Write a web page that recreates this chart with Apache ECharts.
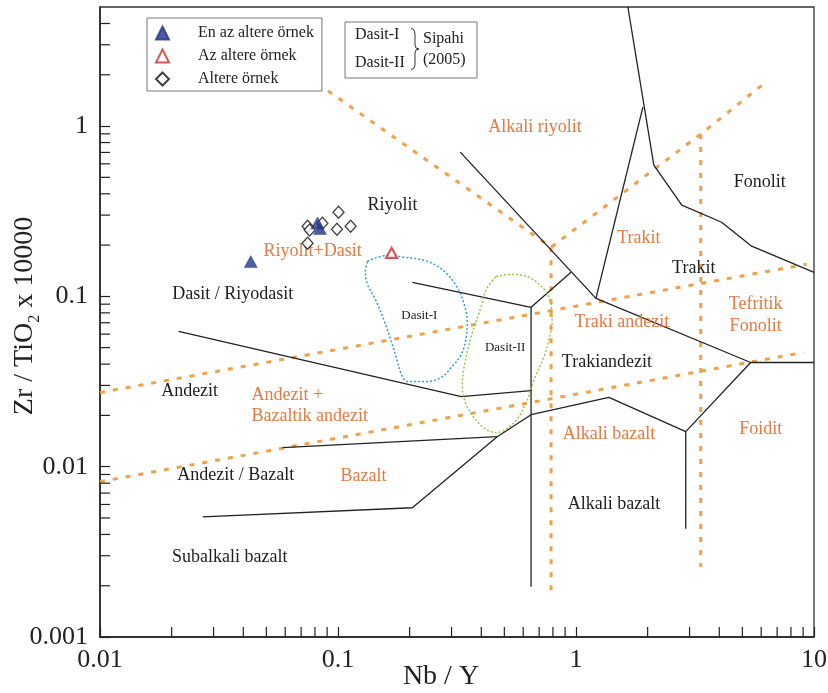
<!DOCTYPE html>
<html>
<head>
<meta charset="utf-8">
<script src="https://cdn.jsdelivr.net/npm/echarts@6/dist/echarts.min.js"></script>
<style>html,body{margin:0;padding:0;background:#fff}#c{width:828px;height:693px}</style>
</head>
<body>
<div id="c"></div>
<script>
// ---------- axis ranges ----------
const X_MIN = 0.01, X_MAX = 10, Y_MIN = 0.001, Y_MAX = 5;
const xMinorTicks = [0.02,0.03,0.04,0.05,0.06,0.07,0.08,0.09,0.2,0.3,0.4,0.5,0.6,0.7,0.8,0.9,2,3,4,5,6,7,8,9];
const yMinorTicks = [0.002,0.003,0.004,0.005,0.006,0.007,0.008,0.009,0.02,0.03,0.04,0.05,0.06,0.07,0.08,0.09,0.2,0.3,0.4,0.5,0.6,0.7,0.8,0.9,2,3,4];

// ---------- samples ----------
const enAzAltere = [[0.043,0.16],[0.082,0.27],[0.084,0.25]];
const azAltere = [[0.168,0.18]];
const altere = [[0.0745,0.258],[0.076,0.245],[0.086,0.269],[0.1005,0.312],[0.099,0.248],[0.113,0.258],[0.0745,0.205]];

// ---------- black field boundaries ----------
const bAndezitTop = [[0.0214,0.0622],[0.3295,0.0258],[0.6475,0.028]];
const bDasitLow = [[0.2053,0.1209],[0.6475,0.0862],[0.953,0.1384]];
const bVertical = [[0.6475,0.0862],[0.6475,0.00197]];
const bRiyolit = [[0.3263,0.703],[1.213,0.0973],[5.42,0.0409],[10,0.0409]];
const bTrakitLeft = [[1.213,0.0973],[1.91,1.293]];
const bFonolit = [[1.652,5],[2.123,0.59],[2.783,0.343],[4.093,0.2724],[5.47,0.197],[10,0.1384]];
const bFoidit = [[5.42,0.0409],[2.892,0.01606],[2.892,0.00432]];
const bAlkaliBazalt = [[0.02704,0.00508],[0.2053,0.00574],[0.4665,0.015],[0.6475,0.0202],[1.375,0.0255],[2.892,0.01606]];
const bBazaltTop = [[0.0585,0.01294],[0.4665,0.015]];

// ---------- orange dotted boundaries ----------
const oRiyolit = [[0.0738,1.968],[0.7856,0.1942],[3.343,0.897],[6.14,1.766]];
const oVert1 = [[0.7856,0.1942],[0.7856,0.00172]];
const oVert2 = [[3.343,0.897],[3.343,0.00258]];
const oUpper = [[0.01,0.02724],[9.3,0.1543]];
const oLower = [[0.01,0.00816],[9.04,0.0469]];

// ---------- Sipahi (2005) fields ----------
const dasitI = [[0.133,0.1606],[0.1612,0.1742],[0.19,0.1696],[0.2373,0.1606],[0.2796,0.1403],[0.317,0.1129],[0.339,0.0897],[0.349,0.0713],[0.3458,0.0574],[0.3295,0.0456],[0.2991,0.0382],[0.2716,0.0334],[0.2373,0.0316],[0.1956,0.0316],[0.1864,0.0338],[0.1776,0.0415],[0.1676,0.0543],[0.1567,0.0713],[0.145,0.0934],[0.133,0.1177],[0.1304,0.1403],[0.133,0.1606]];
const dasitII = [[0.462,0.131],[0.539,0.1347],[0.6353,0.1293],[0.734,0.11],[0.7856,0.0897],[0.793,0.0713],[0.7705,0.0558],[0.734,0.0444],[0.6667,0.0325],[0.6173,0.0238],[0.5495,0.01815],[0.462,0.01585],[0.4036,0.0172],[0.349,0.02254],[0.3327,0.0296],[0.339,0.0388],[0.3628,0.0582],[0.3997,0.0873],[0.4195,0.11],[0.462,0.131]];

// ---------- field names ----------
const blackLabelText = ['Riyolit','Dasit / Riyodasit','Andezit','Andezit / Bazalt','Subalkali bazalt','Trakiandezit','Alkali bazalt','Fonolit','Trakit'];
const blackLabelPos = [[0.1693,0.343],[0.0361,0.1027],[0.0238,0.0276],[0.0372,0.00885],[0.0351,0.00292],[1.349,0.0409],[1.443,0.00598],[5.91,0.4685],[3.125,0.146]];
const orangeLabelText = ['Alkali riyolit','Riyolit+Dasit','Trakit','Tefritik\nFonolit','Traki andezit','Bazalt','Alkali bazalt','Foidit'];
const orangeLabelPos = [[0.673,0.9865],[0.0782,0.184],[1.837,0.2195],[5.685,0.0773],[1.559,0.0703],[0.128,0.00873],[1.375,0.0154],[5.97,0.0165]];
const orangeLeftText = ['Andezit +\nBazaltik andezit'];
const orangeLeftPos = [[0.0433,0.02284]];
const smallLabelText = ['Dasit-I','Dasit-II'];
const smallLabelPos = [[0.2196,0.0773],[0.504,0.0501]];

const SERIF = '"Liberation Serif", "Times New Roman", serif';
const ORANGE_TXT = '#E27A43';
const ORANGE_LINE = '#F0A048';

function lineSeries(data, color, width, type, smooth) {
  return { type: 'line', data: data, symbol: 'none', silent: true, smooth: smooth || false,
    lineStyle: { color: color, width: width, type: type || 'solid', cap: 'butt' }, z: 2 };
}
function textSeries(texts, pos, color, size, align, lh) {
  return { type: 'custom', silent: true, z: 5, data: pos,
    renderItem: function (params, api) {
      const p = api.coord([api.value(0), api.value(1)]);
      return { type: 'text', x: p[0], y: p[1],
        style: { text: texts[params.dataIndex], fill: color, font: size + 'px ' + SERIF,
          align: align, verticalAlign: 'middle', lineHeight: lh } };
    } };
}
function tickSeries(values, dir) {
  return { type: 'custom', silent: true, z: 3,
    data: values.map(v => dir === 'x' ? [v, Y_MIN] : [X_MIN, v]),
    renderItem: function (params, api) {
      const p = api.coord([api.value(0), api.value(1)]);
      const s = dir === 'x' ? { x1: p[0], y1: p[1], x2: p[0], y2: p[1] - 10 } : { x1: p[0], y1: p[1], x2: p[0] + 10, y2: p[1] };
      return { type: 'line', shape: s, style: { stroke: '#222', lineWidth: 1.2 } };
    } };
}
const fmt = v => String(+Number(v).toPrecision(3));

const chart = echarts.init(document.getElementById('c'), null, { renderer: 'canvas' });
chart.setOption({
  animation: false,
  backgroundColor: '#fff',
  grid: { left: 100, top: 7, right: 14, bottom: 56, show: true, borderColor: '#333', borderWidth: 1.3,
    containLabel: false, outerBoundsMode: 'none' },
  xAxis: {
    type: 'log', logBase: 10, min: X_MIN, max: X_MAX,
    name: 'Nb / Y', nameLocation: 'middle', nameGap: 26, nameMoveOverlap: false,
    nameTextStyle: { fontFamily: SERIF, fontSize: 28, color: '#222', padding: [0, 32, 0, 0] },
    axisLine: { lineStyle: { color: '#222', width: 1.5 } },
    axisTick: { inside: true, length: 10, lineStyle: { color: '#222', width: 1.2 } },
    axisLabel: { fontFamily: SERIF, fontSize: 26, color: '#222', margin: 10, formatter: fmt },
    splitLine: { show: false }
  },
  yAxis: {
    type: 'log', logBase: 10, min: Y_MIN, max: Y_MAX,
    name: 'Zr / TiO{s|2} x 10000', nameLocation: 'middle', nameGap: 57, nameMoveOverlap: false,
    nameTextStyle: { fontFamily: SERIF, fontSize: 28, color: '#222', lineHeight: 36, padding: [0, 0, 0, 12],
      rich: { s: { fontFamily: SERIF, fontSize: 16, color: '#222', verticalAlign: 'bottom' } } },
    axisLine: { lineStyle: { color: '#222', width: 1.5 } },
    axisTick: { inside: true, length: 10, lineStyle: { color: '#222', width: 1.2 } },
    axisLabel: { fontFamily: SERIF, fontSize: 26, color: '#222', margin: 12, formatter: fmt, showMaxLabel: false },
    splitLine: { show: false }
  },
  legend: {
    orient: 'vertical', left: 147, top: 18, padding: [7, 8, 4, 8], itemGap: 7,
    itemWidth: 13, itemHeight: 13, selectedMode: false,
    borderColor: '#777', borderWidth: 1, backgroundColor: '#fff',
    textStyle: { fontFamily: SERIF, fontSize: 16, color: '#222', padding: [0, 0, 0, 24] },
    data: ['En az altere örnek', 'Az altere örnek', 'Altere örnek'], z: 20
  },
  graphic: [
    { type: 'rect', z: 100, shape: { x: 345, y: 22, width: 132, height: 56 }, style: { fill: '#fff', stroke: '#777', lineWidth: 1 } },
    { type: 'text', z: 101, x: 355, y: 35, style: { text: 'Dasit-I', font: '16px ' + SERIF, fill: '#222', verticalAlign: 'middle' } },
    { type: 'text', z: 101, x: 355, y: 63, style: { text: 'Dasit-II', font: '16px ' + SERIF, fill: '#222', verticalAlign: 'middle' } },
    { type: 'text', z: 101, x: 423, y: 39, style: { text: 'Sipahi', font: '16px ' + SERIF, fill: '#222', verticalAlign: 'middle' } },
    { type: 'text', z: 101, x: 423, y: 60, style: { text: '(2005)', font: '16px ' + SERIF, fill: '#222', verticalAlign: 'middle' } },
    { type: 'polyline', z: 101, shape: { points: [[411,28],[414,30],[415,34],[415,45],[416,48],[419,49],[416,50],[415,53],[415,65],[414,68],[411,70]] },
      style: { fill: 'none', stroke: '#333', lineWidth: 1 } }
  ],
  series: [
    lineSeries(oRiyolit, ORANGE_LINE, 3, [5, 8]),
    lineSeries(oVert1, ORANGE_LINE, 3, [5, 8]),
    lineSeries(oVert2, ORANGE_LINE, 3, [5, 8]),
    lineSeries(oUpper, ORANGE_LINE, 3, [5, 8]),
    lineSeries(oLower, ORANGE_LINE, 3, [5, 8]),
    lineSeries(bAndezitTop, '#222', 1.3),
    lineSeries(bDasitLow, '#222', 1.3),
    lineSeries(bVertical, '#222', 1.3),
    lineSeries(bRiyolit, '#222', 1.3),
    lineSeries(bTrakitLeft, '#222', 1.3),
    lineSeries(bFonolit, '#222', 1.3),
    lineSeries(bFoidit, '#222', 1.3),
    lineSeries(bAlkaliBazalt, '#222', 1.3),
    lineSeries(bBazaltTop, '#222', 1.3),
    lineSeries(dasitI, '#3A98CF', 1.5, [2, 2], 0.35),
    lineSeries(dasitII, '#8DC640', 1.4, [2, 2], 0.35),
    tickSeries(xMinorTicks, 'x'),
    tickSeries(yMinorTicks, 'y'),
    textSeries(blackLabelText, blackLabelPos, '#1e1e1e', 18, 'center', 22),
    textSeries(orangeLabelText, orangeLabelPos, ORANGE_TXT, 18, 'center', 22),
    textSeries(orangeLeftText, orangeLeftPos, ORANGE_TXT, 18, 'left', 21),
    textSeries(smallLabelText, smallLabelPos, '#1e1e1e', 13, 'center', 16),
    { name: 'Altere örnek', type: 'scatter', data: altere, symbol: 'diamond', symbolSize: [11, 12], z: 10,
      itemStyle: { color: '#fff', borderColor: '#111', borderWidth: 1.3 } },
    { name: 'En az altere örnek', type: 'scatter', data: enAzAltere, symbol: 'triangle', symbolSize: [13, 12], z: 11,
      itemStyle: { color: '#22348A', borderColor: '#22348A', borderWidth: 0.5 } },
    { name: 'Az altere örnek', type: 'scatter', data: azAltere, symbol: 'triangle', symbolSize: [11, 10], z: 11,
      itemStyle: { color: '#fff', borderColor: '#C8302E', borderWidth: 2.2 } }
  ]
});
</script>
</body>
</html>
